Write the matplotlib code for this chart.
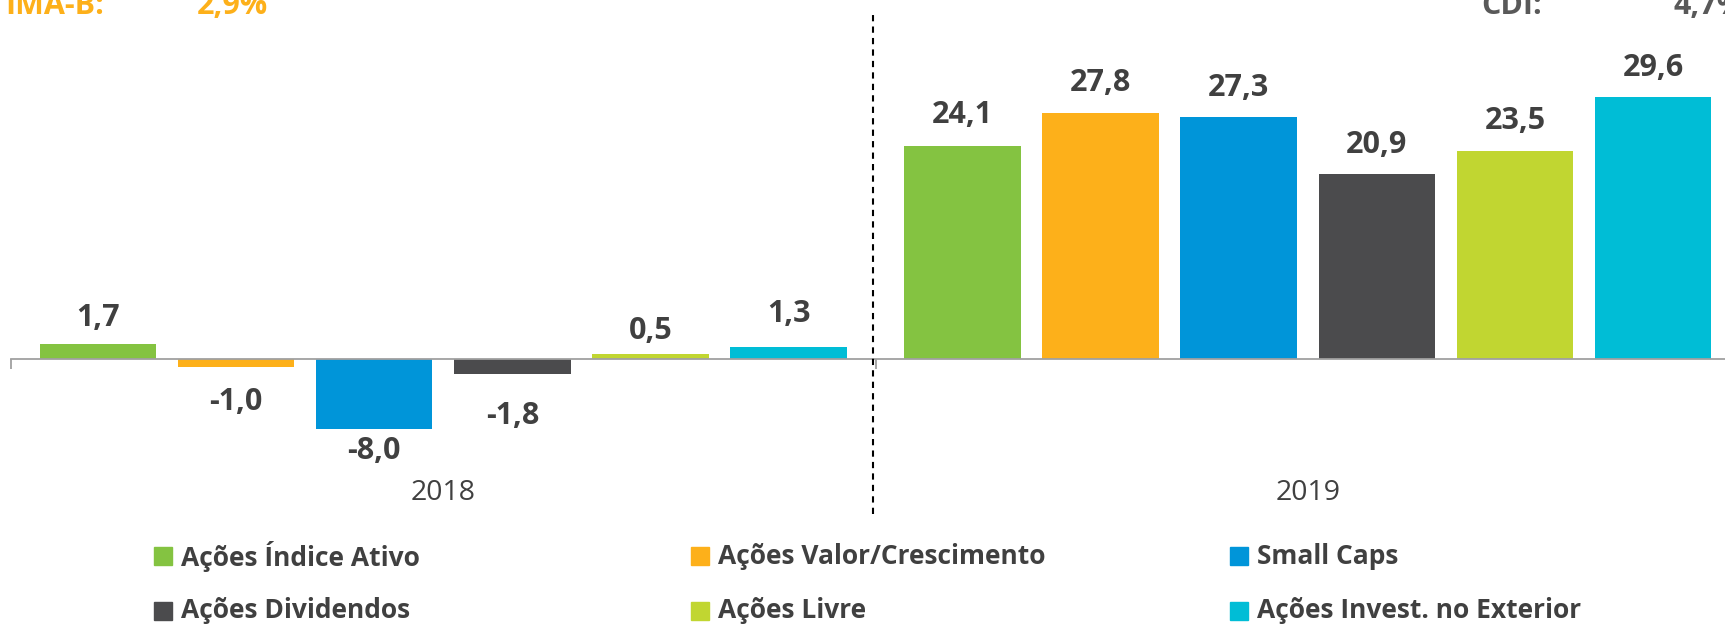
import matplotlib
matplotlib.use("Agg")
import matplotlib.pyplot as plt
from matplotlib.patches import Rectangle
import numpy as np

# ---- data ----
years = ["2018", "2019"]
categories = ["Ações Índice Ativo", "Ações Valor/Crescimento", "Small Caps",
              "Ações Dividendos", "Ações Livre", "Ações Invest. no Exterior"]
values_2018 = [1.7, -1.0, -8.0, -1.8, 0.5, 1.3]
values_2019 = [24.1, 27.8, 27.3, 20.9, 23.5, 29.6]
label_2018 = ["1,7", "-1,0", "-8,0", "-1,8", "0,5", "1,3"]
label_2019 = ["24,1", "27,8", "27,3", "20,9", "23,5", "29,6"]
bench_left = ("IMA-B:", "2,9%")
bench_right = ("CDI:", "4,7%")

# ---- style ----
colors = ["#84C341", "#FDB01A", "#0095D9", "#4B4B4D", "#C1D631", "#00BDD6"]
label_off_px = [[26, 35, 22, 42, 23, 33], [31, 30, 29, 29, 30, 29]]
txt = "#404040"
FONT = "Open Sans"

W, H = 1725, 624
fig = plt.figure(figsize=(W / 100, H / 100), dpi=100)

def fx(x):
    return x / W

def fy(y):
    return 1 - y / H

# axes geometry (pixels)
ax_left, ax_right = 11, 1740
ax_top, ax_bot = 49.5, 491
ylo, yhi = -15, 35
ax = fig.add_axes([fx(ax_left), fy(ax_bot), (ax_right - ax_left) / W, (ax_bot - ax_top) / H])
ax.set_xlim(0, 2)
ax.set_ylim(ylo, yhi)

step = 0.1598
width = 0.1349
all_vals = [values_2018, values_2019]
all_labels = [label_2018, label_2019]
for g, (vals, labs) in enumerate(zip(all_vals, all_labels)):
    center = g + 0.5
    xs = center + (np.arange(len(vals)) - 2.5) * step
    ax.bar(xs, vals, width=width, color=colors, zorder=2)
    for i, (x, v, lab) in enumerate(zip(xs, vals, labs)):
        off = label_off_px[g][i] * 0.72
        ax.annotate(lab, (x, v), xytext=(0, off if v >= 0 else -off),
                    textcoords="offset points", ha="center", va="center",
                    fontsize=22, fontweight="bold", color=txt, family=FONT)
    ax.text(center, ylo + (ax_bot - 493) / (ax_bot - ax_top) * (yhi - ylo), years[g],
            ha="center", va="center", fontsize=20.5, color=txt, family=FONT)

for s in ["top", "right", "left"]:
    ax.spines[s].set_visible(False)
ax.spines["bottom"].set_position(("data", 0))
ax.spines["bottom"].set_color("#A0A0A0")
ax.spines["bottom"].set_linewidth(1.3)
ax.set_yticks([])
ax.set_xticks([0, 1, 2])
ax.set_xticklabels([])
ax.tick_params(axis="x", direction="out", length=7.5, width=1.3, color="#A0A0A0")

# dashed separator
tr = ax.get_xaxis_transform()
y_top_ax = (ax_bot - 10) / (ax_bot - ax_top)
y_bot_ax = (ax_bot - 514) / (ax_bot - ax_top)
ax.plot([0.997, 0.997], [y_bot_ax, y_top_ax], transform=tr, clip_on=False,
        color="black", lw=1.5, linestyle=(0, (3, 2.5)), zorder=3)

# benchmark texts at top (partly cut off at the top edge, as in the reference)
orange = "#FDB01A"
ty = 6
fig.text(fx(5), fy(ty), bench_left[0], ha="left", va="center", fontsize=22,
         fontweight="bold", color=orange, family=FONT)
fig.text(fx(197), fy(ty), bench_left[1], ha="left", va="center", fontsize=22,
         fontweight="bold", color=orange, family=FONT)
fig.text(fx(1481), fy(ty), bench_right[0], ha="left", va="center", fontsize=22,
         fontweight="bold", color="#595959", family=FONT)
fig.text(fx(1673), fy(ty), bench_right[1], ha="left", va="center", fontsize=22,
         fontweight="bold", color="#595959", family=FONT)

# legend (manual)
col_x = [154, 691, 1230]
row_y = [556, 611]
sq = 18
for i, (cat, col) in enumerate(zip(categories, colors)):
    r, c = divmod(i, 3)
    x0, y0 = col_x[c], row_y[r]
    fig.patches.append(Rectangle((fx(x0), fy(y0 + sq / 2)), sq / W, sq / H,
                                 transform=fig.transFigure, color=col))
    fig.text(fx(x0 + sq + 9), fy(y0), cat, ha="left", va="center", fontsize=19,
             fontweight="bold", color=txt, family=FONT)

fig.savefig("out.png", dpi=100)
